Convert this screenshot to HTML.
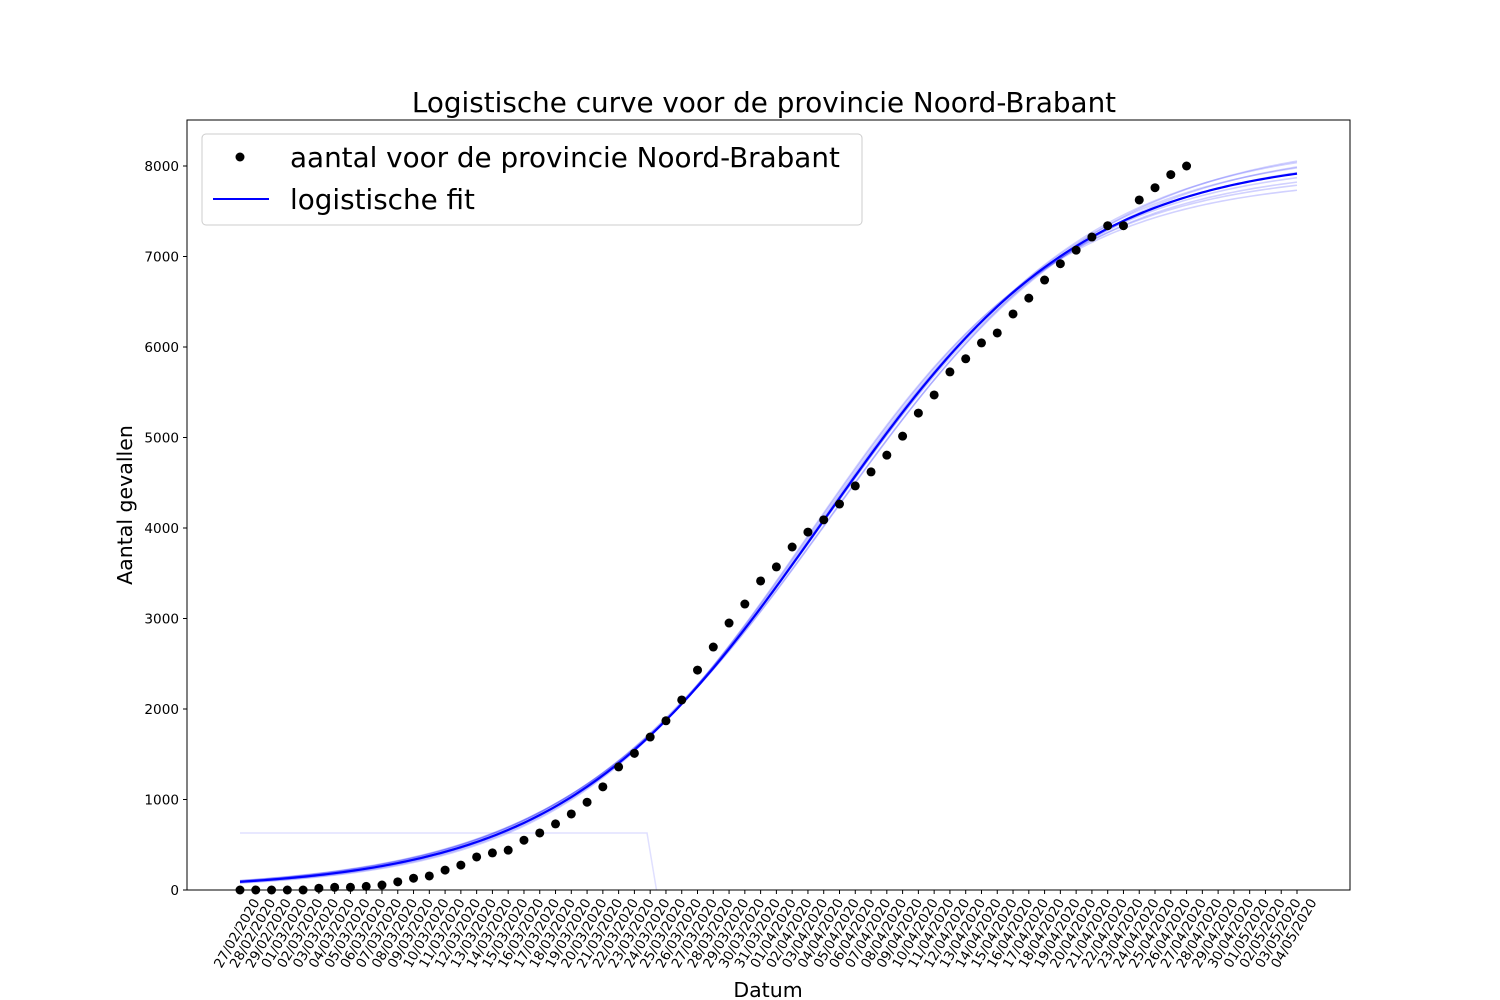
<!DOCTYPE html>
<html><head><meta charset="utf-8"><style>
body{margin:0;background:#fff;}
svg{display:block;font-family:"DejaVu Sans","Liberation Sans",sans-serif;}
</style></head><body>
<svg id="chart" width="1500" height="1000" xmlns="http://www.w3.org/2000/svg"></svg>
<script>
const dates=["27/02/2020","28/02/2020","29/02/2020","01/03/2020","02/03/2020","03/03/2020","04/03/2020","05/03/2020","06/03/2020","07/03/2020","08/03/2020","09/03/2020","10/03/2020","11/03/2020","12/03/2020","13/03/2020","14/03/2020","15/03/2020","16/03/2020","17/03/2020","18/03/2020","19/03/2020","20/03/2020","21/03/2020","22/03/2020","23/03/2020","24/03/2020","25/03/2020","26/03/2020","27/03/2020","28/03/2020","29/03/2020","30/03/2020","31/03/2020","01/04/2020","02/04/2020","03/04/2020","04/04/2020","05/04/2020","06/04/2020","07/04/2020","08/04/2020","09/04/2020","10/04/2020","11/04/2020","12/04/2020","13/04/2020","14/04/2020","15/04/2020","16/04/2020","17/04/2020","18/04/2020","19/04/2020","20/04/2020","21/04/2020","22/04/2020","23/04/2020","24/04/2020","25/04/2020","26/04/2020","27/04/2020","28/04/2020","29/04/2020","30/04/2020","01/05/2020","02/05/2020","03/05/2020","04/05/2020"];
const cases=[0,0,0,0,0,20,30,30,40,55,90,130,155,220,275,365,410,440,550,630,730,840,970,1140,1360,1510,1690,1870,2100,2430,2685,2950,3160,3415,3570,3790,3955,4090,4265,4465,4620,4805,5015,5270,5470,5725,5870,6045,6155,6365,6540,6740,6920,7070,7215,7340,7340,7625,7760,7905,8000];
const fitL=[8120,8280,7950,8200,8000,8320,7880,8150,8060,8240];
const fitK=[0.1215,0.118,0.126,0.12,0.124,0.116,0.128,0.119,0.123,0.117];
const fitT0=[36.9,37.3,36.3,37.1,36.5,37.6,36.1,37.0,36.7,37.4];
const artifactLevel=630;
const yTicks=[0,1000,2000,3000,4000,5000,6000,7000,8000];

const svg=document.getElementById('chart');
const NS="http://www.w3.org/2000/svg";
const L=187,R=1350,T=120,B=890;
const x0=240,x1=1297;
const xs=i=>x0+(x1-x0)*i/(dates.length-1);
const ys=v=>B-(B-166)*v/8000;
function mk(tag,attrs,parent){const e=document.createElementNS(NS,tag);for(const k in attrs)e.setAttribute(k,attrs[k]);(parent||svg).appendChild(e);return e;}

const title=mk('text',{x:764,y:112,'text-anchor':'middle','font-size':27.8,fill:'#000'});


title.textContent='Logistische curve voor de provincie Noord-Brabant';

const art=mk('polyline',{points:`${xs(0)},${ys(artifactLevel)} ${xs(25.8)},${ys(artifactLevel)} ${xs(26.4)},${B}`,fill:'none',stroke:'rgba(0,0,255,0.12)','stroke-width':1.5});



for(let c=fitL.length-1;c>=0;c--){
  let pts=[];
  for(let t=0;t<=dates.length-1;t+=0.25){const v=fitL[c]/(1+Math.exp(-fitK[c]*(t-fitT0[c])));pts.push(xs(t)+','+ys(v));}
  const p=mk('polyline',{points:pts.join(' '),fill:'none',stroke:c==0?'#0000ff':'rgba(0,0,255,0.18)','stroke-width':c==0?2.2:1.6});
  
  
}
cases.forEach((v,i)=>{
  const d=mk('circle',{cx:xs(i),cy:ys(v),r:4.5,fill:'#000'});
  
  
});
const fr=mk('rect',{x:L,y:T,width:R-L,height:B-T,fill:'none',stroke:'#000','stroke-width':1});


yTicks.forEach(v=>{
  mk('line',{x1:L-4,x2:L,y1:ys(v),y2:ys(v),stroke:'#000'});
  const t=mk('text',{x:L-8,y:ys(v)+5,'text-anchor':'end','font-size':13.6});
  
  
  t.textContent=v;
});
dates.forEach((d,i)=>{
  mk('line',{x1:xs(i),x2:xs(i),y1:B,y2:B+4,stroke:'#000'});
  const ax=xs(i)+20, ay=B+12;
  const t=mk('text',{x:ax,y:ay,'text-anchor':'end','font-size':13.4,transform:`rotate(-60 ${ax} ${ay})`});
  
  
  t.textContent=d;
});
const xl=mk('text',{x:768,y:997,'text-anchor':'middle','font-size':20.5});


xl.textContent='Datum';
const yl=mk('text',{x:132,y:505,'text-anchor':'middle','font-size':20.5,transform:'rotate(-90 132 505)'});


yl.textContent='Aantal gevallen';
const lg=mk('g',{});


mk('rect',{x:202,y:134,width:660,height:91,rx:4,fill:'#fff','fill-opacity':0.8,stroke:'#ccc'},lg);
mk('circle',{cx:240,cy:157,r:4.5,fill:'#000'},lg);
const l1=mk('text',{x:290,y:167,'font-size':27.8},lg);


l1.textContent='aantal voor de provincie Noord-Brabant';
mk('line',{x1:213,x2:269,y1:199,y2:199,stroke:'#0000ff','stroke-width':2},lg);
const l2=mk('text',{x:290,y:209,'font-size':27.8},lg);


l2.textContent='logistische fit';
</script>
</body></html>
